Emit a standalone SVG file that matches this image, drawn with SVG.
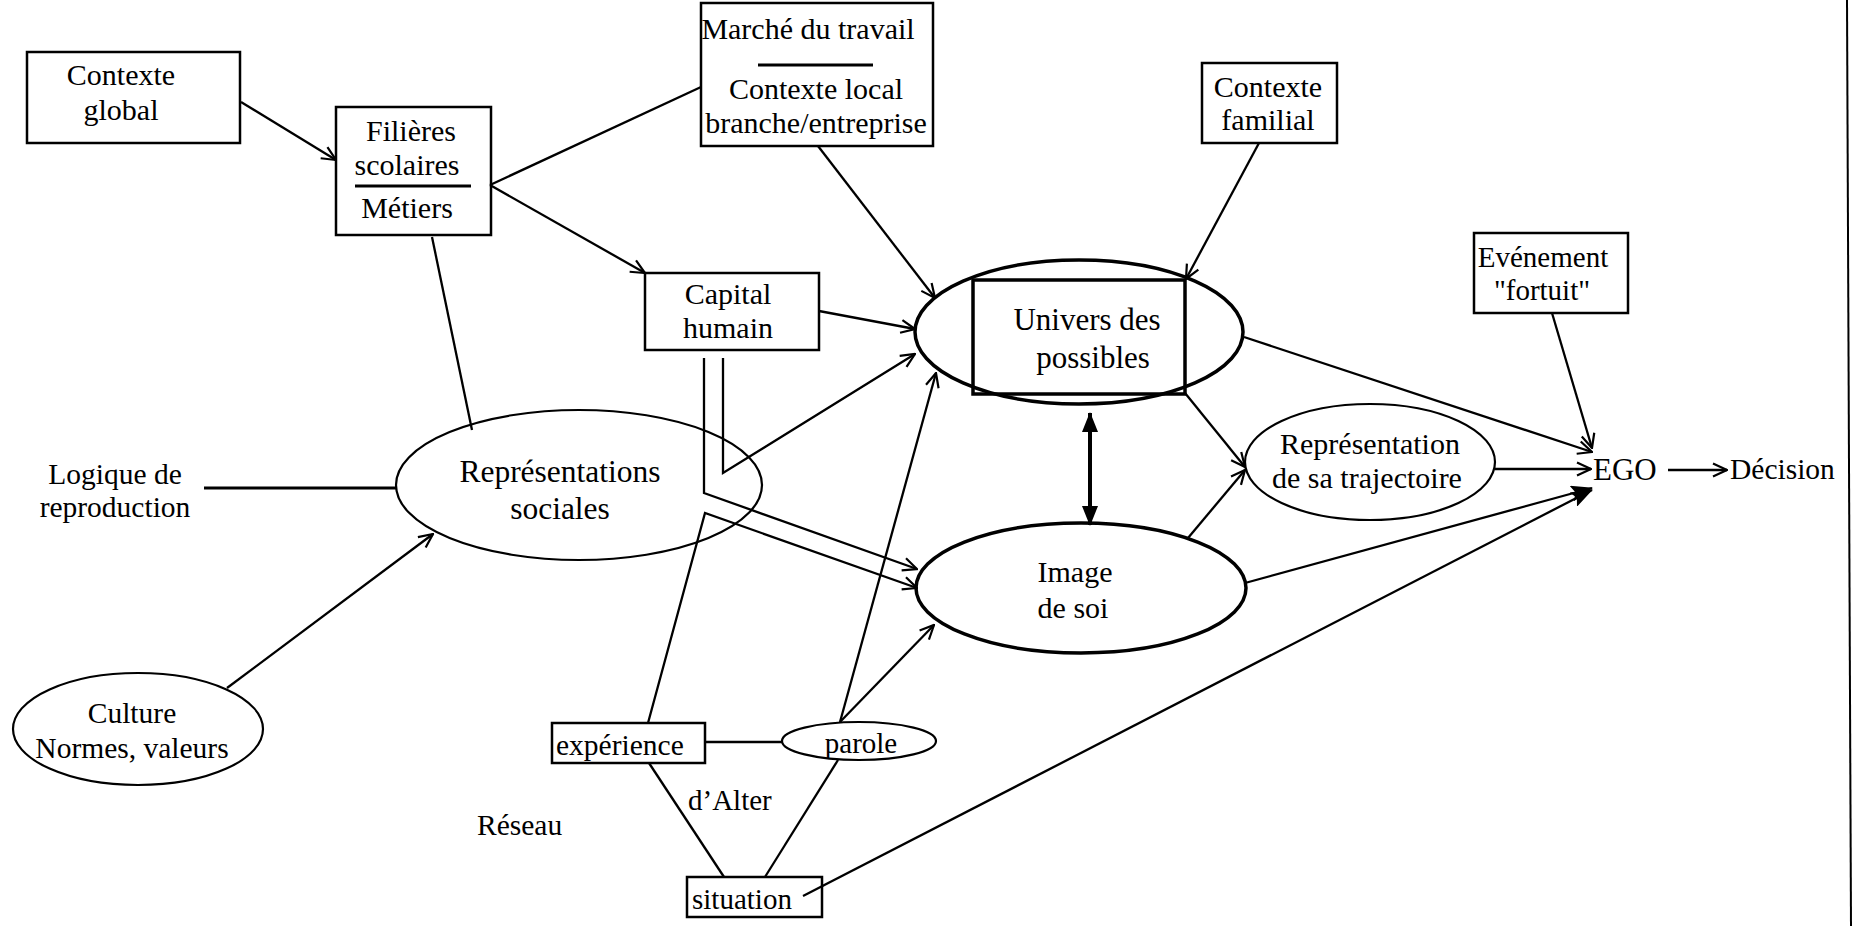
<svg xmlns="http://www.w3.org/2000/svg" width="1855" height="926" viewBox="0 0 1855 926">
<style>
text{font-family:"Liberation Serif","Times New Roman",serif;font-size:30px;fill:#000}
.m{text-anchor:middle}
.box{fill:none;stroke:#000;stroke-width:2.5}
.ell{fill:none;stroke:#000;stroke-width:2.2}
.thick{fill:none;stroke:#000;stroke-width:3.5}
.sep{stroke:#000;stroke-width:3}
#connectors line,#connectors polyline{fill:none;stroke:#000;stroke-width:2.3}
.oa{marker-end:url(#open)}
.fa{marker-end:url(#filled)}
</style>
<defs>
<marker id="open" viewBox="0 0 16 16" refX="15" refY="8" markerWidth="16" markerHeight="16" markerUnits="userSpaceOnUse" orient="auto"><path d="M1,1.5 L15,8 L1,14.5" fill="none" stroke="#000" stroke-width="2.2"/></marker>
<marker id="filled" viewBox="0 0 22 16" refX="21" refY="8" markerWidth="22" markerHeight="16" markerUnits="userSpaceOnUse" orient="auto"><path d="M0,0 L22,8 L0,16 L4,8 z" fill="#000"/></marker>
<marker id="dbl" viewBox="0 0 20 16" refX="19" refY="8" markerWidth="20" markerHeight="16" markerUnits="userSpaceOnUse" orient="auto-start-reverse"><path d="M0,0 L20,8 L0,16 z" fill="#000"/></marker>
</defs>
<rect width="1855" height="926" fill="#fff"/>
<line x1="1847" y1="0" x2="1851" y2="926" stroke="#000" stroke-width="2"/>

<g id="connectors">
<line x1="241" y1="102" x2="336" y2="160" class="oa"/>
<line x1="490" y1="185" x2="701" y2="87"/>
<line x1="490" y1="185" x2="645" y2="273" class="oa"/>
<line x1="432" y1="237" x2="472" y2="430"/>
<line x1="818" y1="146" x2="935" y2="298" class="oa"/>
<line x1="1259" y1="143" x2="1186" y2="279" class="oa"/>
<line x1="819" y1="311" x2="915" y2="329" class="oa"/>
<polyline points="723,358 723,473 915,354" class="oa"/>
<polyline points="704,358 704,493 917,569" class="oa"/>
<polyline points="648,723 705,513 917,588" class="oa"/>
<line x1="840" y1="722" x2="936" y2="373" class="oa"/>
<line x1="840" y1="722" x2="934" y2="625" class="oa"/>
<line x1="705" y1="742" x2="782" y2="742"/>
<line x1="649" y1="763" x2="724" y2="877"/>
<line x1="838" y1="760" x2="765" y2="877"/>
<line x1="803" y1="896" x2="1592" y2="490" class="fa"/>
<line x1="204" y1="488" x2="396" y2="488" style="stroke-width:2.8"/>
<line x1="227" y1="688" x2="433" y2="534" class="oa"/>
<line x1="1244" y1="337" x2="1592" y2="452" class="oa"/>
<line x1="1552" y1="313" x2="1592" y2="448" class="oa"/>
<line x1="1495" y1="469" x2="1591" y2="469" class="oa"/>
<line x1="1245" y1="583" x2="1592" y2="488" class="fa"/>
<line x1="1185" y1="393" x2="1245" y2="467" class="oa"/>
<line x1="1188" y1="538" x2="1245" y2="470" class="oa"/>
<line x1="1668" y1="470" x2="1727" y2="470" class="oa"/>
<line x1="1090" y1="413" x2="1090" y2="525" style="stroke-width:4;marker-start:url(#dbl);marker-end:url(#dbl)"/>
</g>

<g id="contexte-global">
<rect x="27" y="52" width="213" height="91" class="box"/>
<text x="121" y="85" class="m">Contexte</text>
<text x="121" y="120" class="m">global</text>
</g>

<g id="filieres">
<rect x="336" y="107" width="155" height="128" class="box"/>
<text x="411" y="141" class="m">Filières</text>
<text x="407" y="175" class="m">scolaires</text>
<line x1="355" y1="186" x2="471" y2="186" class="sep"/>
<text x="407" y="218" class="m">Métiers</text>
</g>

<g id="marche">
<rect x="701" y="3" width="232" height="143" class="box"/>
<text x="808" y="39" class="m">Marché du travail</text>
<line x1="758" y1="65" x2="873" y2="65" class="sep"/>
<text x="816" y="99" class="m">Contexte local</text>
<text x="816" y="133" class="m">branche/entreprise</text>
</g>

<g id="contexte-familial">
<rect x="1202" y="63" width="135" height="80" class="box"/>
<text x="1268" y="97" class="m">Contexte</text>
<text x="1268" y="130" class="m">familial</text>
</g>

<g id="evenement">
<rect x="1474" y="233" width="154" height="80" class="box"/>
<text x="1543" y="267" class="m" style="font-size:29px">Evénement</text>
<text x="1542" y="300" class="m" style="font-size:29px">"fortuit"</text>
</g>

<g id="capital">
<rect x="645" y="273" width="174" height="77" class="box"/>
<text x="728" y="304" class="m">Capital</text>
<text x="728" y="338" class="m">humain</text>
</g>

<g id="univers">
<ellipse cx="1079" cy="332" rx="164" ry="72" class="thick"/>
<rect x="973" y="280" width="212" height="114" class="thick"/>
<text x="1087" y="330" class="m" style="font-size:31px">Univers des</text>
<text x="1093" y="368" class="m" style="font-size:31px">possibles</text>
</g>

<g id="image">
<ellipse cx="1081" cy="588" rx="165" ry="65" class="thick"/>
<text x="1075" y="582" class="m">Image</text>
<text x="1073" y="618" class="m">de soi</text>
</g>

<g id="trajectoire">
<ellipse cx="1370" cy="462" rx="125" ry="58" class="ell"/>
<text x="1370" y="454" class="m">Représentation</text>
<text x="1367" y="488" class="m">de sa trajectoire</text>
</g>

<g id="ego">
<text x="1593" y="480" style="font-size:31px">EGO</text>
</g>

<g id="decision">
<text x="1730" y="479" style="font-size:29.5px">Décision</text>
</g>

<g id="logique">
<text x="115" y="484" class="m" style="font-size:29.5px">Logique de</text>
<text x="115" y="517" class="m" style="font-size:29.5px">reproduction</text>
</g>

<g id="representations-sociales">
<ellipse cx="579" cy="485" rx="183" ry="75" class="ell"/>
<text x="560" y="482" class="m" style="font-size:31.5px">Représentations</text>
<text x="560" y="519" class="m" style="font-size:31.5px">sociales</text>
</g>

<g id="culture">
<ellipse cx="138" cy="729" rx="125" ry="56" class="ell"/>
<text x="132" y="723" class="m" style="font-size:29.5px">Culture</text>
<text x="132" y="758" class="m" style="font-size:29.5px">Normes, valeurs</text>
</g>

<g id="experience">
<rect x="552" y="723" width="153" height="40" class="box"/>
<text x="556" y="755" style="font-size:29.5px">expérience</text>
</g>

<g id="parole">
<ellipse cx="859" cy="741" rx="77" ry="19" class="ell"/>
<text x="861" y="753" class="m" style="font-size:29px">parole</text>
</g>

<g id="situation">
<rect x="687" y="877" width="135" height="40" class="box"/>
<text x="692" y="909" style="font-size:29px">situation</text>
</g>

<g id="alter">
<text x="688" y="810" style="font-size:29px">d’Alter</text>
</g>

<g id="reseau">
<text x="477" y="835" style="font-size:29.5px">Réseau</text>
</g>
</svg>
